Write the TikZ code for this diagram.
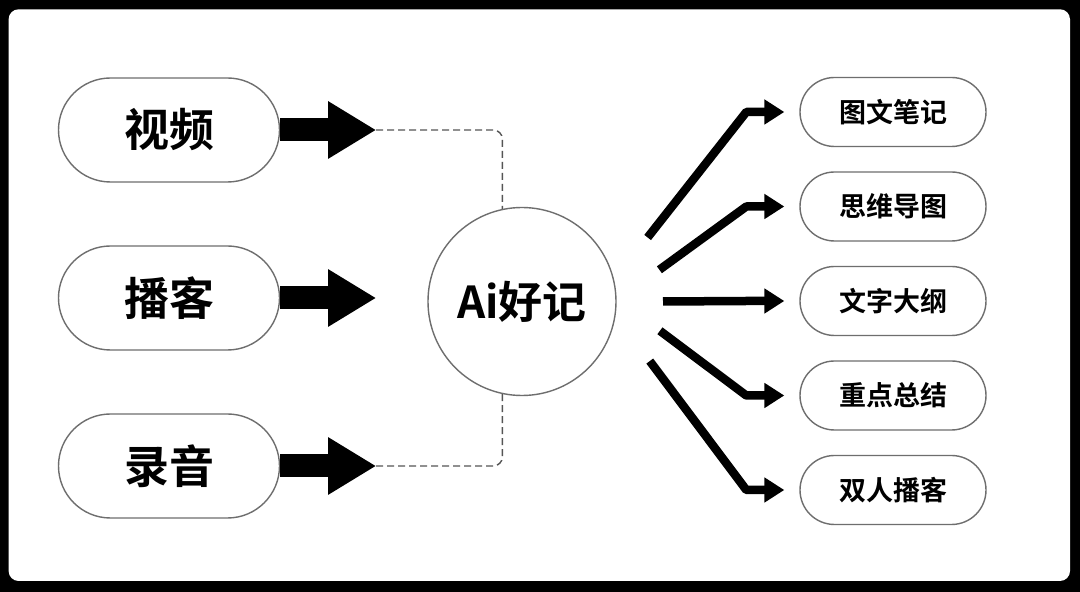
\documentclass[tikz,border=0pt]{standalone}
\usepackage{fontspec}
\newfontfamily\cjk{Noto Sans CJK SC}[BoldFont={Noto Sans CJK SC Bold}]
\usetikzlibrary{arrows.meta,calc}
\definecolor{rimgray}{HTML}{6E6E6E}
\definecolor{dashgray}{HTML}{555555}

\begin{document}
\begin{tikzpicture}[x=1pt,y=1pt,
    source/.style={draw=rimgray,line width=1.4pt,rounded corners=52pt,
        minimum width=221pt,minimum height=104pt,
        font=\cjk\bfseries\fontsize{45}{45}\selectfont},
    output/.style={draw=rimgray,line width=1.4pt,rounded corners=34.5pt,
        minimum width=186pt,minimum height=69pt,
        font=\cjk\bfseries\fontsize{27}{27}\selectfont},
    fat/.style={line width=23pt,-{Triangle[width=54pt,length=48pt]}},
    outarrow/.style={line width=8.5pt,line join=round,
        -{Triangle[width=24pt,length=20pt]}},
    dashline/.style={draw=dashgray,line width=1.4pt,
        dash pattern=on 7pt off 4pt,rounded corners=9pt}]

    % === Frame ===
    \fill[black] (0,0) rectangle (1080,592);
    \fill[white,rounded corners=10pt] (8.6,11) rectangle (1070,582.7);

    % === Left: sources ===
    \node[source] (video) at (169,462) {视频};
    \node[source] (podcast) at (169,294) {播客};
    \node[source] (record) at (169,126) {录音};

    % Centre circle
    \node[circle,draw=rimgray,line width=1.4pt,minimum size=188pt,inner sep=0pt,
        font=\cjk\bfseries\fontsize{44}{44}\selectfont] (hub) at (522,290.5) {Ai好记};

    % Thick arrows into the hub
    \draw[fat] (video.east) -- ++(96,0) coordinate (vtip);
    \draw[fat] (podcast.east) -- ++(96,0);
    \draw[fat] (record.east) -- ++(96,0) coordinate (rtip);

    \draw[dashline] (vtip) -| (hub.102);
    \draw[dashline] (rtip) -| (hub.258);

    % === Right: outputs ===
    \node[output] (notes) at (893,480) {图文笔记};
    \node[output] (mindmap) at (893,385.5) {思维导图};
    \node[output] (outline) at (893,291) {文字大纲};
    \node[output] (summary) at (893,196.5) {重点总结};
    \node[output] (duo) at (893,102) {双人播客};

    % Bent arrows out of the hub
    \foreach \dest/\ang in {notes/27,mindmap/13,outline/0,summary/-12,duo/-25}
        \draw[outarrow] ($(hub.center)+(\ang:141)$) -- ($(\dest.west)+(-53,0)$)
            -- ($(\dest.west)+(-15,0)$);
\end{tikzpicture}
\end{document}
